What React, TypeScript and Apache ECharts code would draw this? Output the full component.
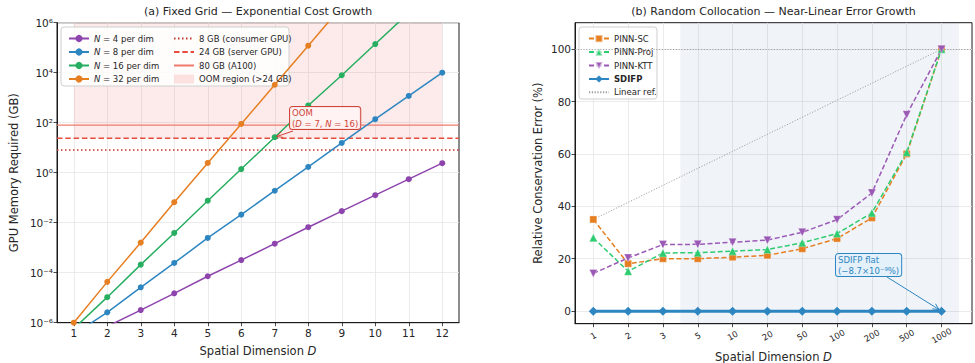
import React, { useEffect, useRef } from "react";
import * as echarts from "echarts";

const FONT = "'DejaVu Sans', 'Liberation Sans', sans-serif";
const TEXT = "#262626";

// ---------- (a) Fixed grid ----------
const DIMS = [1, 2, 3, 4, 5, 6, 7, 8, 9, 10, 11, 12];
const GRID_SIZES = [4, 8, 16, 32];
const MEM_N4 = [1.6e-7, 7.1e-7, 3.2e-6, 1.5e-5, 7.2e-5, 3.2e-4, 1.45e-3, 6.6e-3, 2.9e-2, 0.126, 0.55, 2.4];
const MEM_N8 = [3.4e-7, 2.6e-6, 2.6e-5, 2.45e-4, 2.45e-3, 0.021, 0.19, 1.7, 15.5, 138, 1175, 1.0e4];
const MEM_N16 = [5.8e-7, 1.05e-5, 2.1e-4, 3.9e-3, 0.076, 1.4, 26.3, 490, 7900, 1.4e5, 2.5e6, 4.6e7];
const MEM_N32 = [1.0e-6, 4.3e-5, 1.6e-3, 0.066, 2.45, 89, 3300, 1.2e5, 4.5e6, 1.6e8, 5.8e9, 2.1e11];
const MEM_SERIES = [MEM_N4, MEM_N8, MEM_N16, MEM_N32];
const MEM_COLORS = ["#8e44ad", "#2e86c1", "#27ae60", "#e67e22"];
const GPU_LIMITS_GB = [8, 24, 80];
const GPU_LIMIT_NAMES = ["8 GB (consumer GPU)", "24 GB (server GPU)", "80 GB (A100)"];
const OOM_NAME = "OOM region (>24 GB)";
const OOM_THRESHOLD_GB = 24;
const MEM_LOG_MIN = -6;
const MEM_LOG_MAX = 6;
const D_MIN = 0.5;
const D_MAX = 12.5;

// ---------- (b) Random collocation ----------
const DIM_LABELS = ["1", "2", "3", "5", "10", "20", "50", "100", "200", "500", "1000"];
const ERR_PINN_SC = [35.0, 18.1, 20.0, 20.0, 20.6, 21.3, 23.8, 27.7, 35.6, 60.0, 100.0];
const ERR_PINN_PROJ = [28.0, 15.2, 22.2, 22.3, 22.9, 23.5, 26.1, 29.6, 37.5, 60.6, 100.0];
const ERR_PINN_KTT = [14.4, 20.3, 25.4, 25.5, 26.3, 27.1, 30.1, 34.9, 45.1, 75.0, 100.0];
const ERR_SDIFP = [0, 0, 0, 0, 0, 0, 0, 0, 0, 0, 0];
const LINEAR_REF = [35, 100];
const ERR_TICKS = [0, 20, 40, 60, 80, 100];
const ERR_MIN = -4.8;
const ERR_MAX = 110.1;
const IDX_MIN = -0.525;
const IDX_MAX = 10.875;
const SHADE_FROM = 2.5;
const SHADE_TO = 10.5;

const SUP: Record<string, string> = {
  "-": "⁻", "0": "⁰", "1": "¹", "2": "²", "3": "³", "4": "⁴",
  "5": "⁵", "6": "⁶", "7": "⁷", "8": "⁸", "9": "⁹",
};
const sup = (n: number) => String(n).split("").map((c) => SUP[c] ?? c).join("");

function arrow(from: number[], to: number[], color: string, shrink: number) {
  const dx = to[0] - from[0];
  const dy = to[1] - from[1];
  const len = Math.hypot(dx, dy);
  const ux = dx / len;
  const uy = dy / len;
  const tx = to[0] - ux * shrink;
  const ty = to[1] - uy * shrink;
  const hl = 6;
  const hw = 3;
  const bx = tx - ux * hl;
  const by = ty - uy * hl;
  return [
    { type: "line", z: 20, silent: true, shape: { x1: from[0], y1: from[1], x2: tx, y2: ty }, style: { stroke: color, lineWidth: 1 } },
    {
      type: "polyline", z: 20, silent: true,
      shape: { points: [[bx - uy * hw, by + ux * hw], [tx, ty], [bx + uy * hw, by - ux * hw]] },
      style: { stroke: color, lineWidth: 1, fill: null },
    },
  ];
}

const NO_MARK = { color: "rgba(0,0,0,0)", borderColor: "rgba(0,0,0,0)", borderWidth: 0, opacity: 0 };

export default function App() {
  const ref = useRef<HTMLDivElement>(null);

  useEffect(() => {
    document.body.style.margin = "0";
    if (!ref.current) return;
    const chart = echarts.init(ref.current, undefined, { renderer: "svg" });

    const axisLine = { show: true, onZero: false, lineStyle: { color: "#1a1a1a", width: 1 } };
    const tick = { show: true, length: 3.5, lineStyle: { color: "#1a1a1a", width: 0.8 } };
    const split = { show: true, lineStyle: { color: "#e6e6e6", width: 0.8 } };
    const lbl = { color: TEXT, fontSize: 10.5, fontFamily: FONT };
    const nameStyle = { fontSize: 11.5, color: TEXT, fontFamily: FONT };
    const italic = { ...nameStyle, fontStyle: "italic" };
    const titleStyle = { fontSize: 11, fontWeight: "normal", color: TEXT, fontFamily: FONT };

    const memNames = GRID_SIZES.map((n) => `N = ${n} per dim`);
    const legendText = { fontSize: 8.5, fontFamily: FONT, color: TEXT };

    const series: any[] = [];
    // OOM shaded region
    series.push({
      name: OOM_NAME, type: "line", xAxisIndex: 0, yAxisIndex: 0, silent: true,
      data: [[DIMS[0], MEM_LOG_MAX], [DIMS[DIMS.length - 1], MEM_LOG_MAX]],
      symbol: "none", lineStyle: { width: 0 },
      itemStyle: { color: "rgba(231,76,60,0.13)" },
      areaStyle: { origin: Math.log10(OOM_THRESHOLD_GB), color: "rgba(231,76,60,0.11)", opacity: 1 },
      z: 1,
    });
    const limitStyles = [
      { type: [1.5, 2.5], color: "#c0392b", width: 1.5 },
      { type: [5.5, 2.8], color: "#e74c3c", width: 1.5 },
      { type: "solid", color: "#ef7b6e", width: 1.2 },
    ];
    GPU_LIMITS_GB.forEach((gb, i) => {
      series.push({
        name: GPU_LIMIT_NAMES[i], type: "line", xAxisIndex: 0, yAxisIndex: 0, silent: true,
        data: [[D_MIN, Math.log10(gb)], [D_MAX, Math.log10(gb)]],
        symbol: "none", lineStyle: limitStyles[i], itemStyle: { color: limitStyles[i].color }, z: 2,
      });
    });
    MEM_SERIES.forEach((arr, i) => {
      series.push({
        name: memNames[i], type: "line", xAxisIndex: 0, yAxisIndex: 0,
        data: DIMS.map((d, j) => [d, Math.log10(arr[j])]),
        symbol: "circle", symbolSize: 6, showSymbol: true,
        lineStyle: { color: MEM_COLORS[i], width: 1.5 }, itemStyle: { color: MEM_COLORS[i] }, z: 3,
      });
    });

    // (b)
    series.push({
      name: "shade", type: "line", xAxisIndex: 1, yAxisIndex: 1, silent: true,
      data: [[SHADE_FROM, ERR_MAX], [SHADE_TO, ERR_MAX]], symbol: "none", lineStyle: { width: 0 },
      areaStyle: { origin: ERR_MIN, color: "rgba(70,120,180,0.08)", opacity: 1 }, z: 1,
    });
    series.push({
      name: "Linear ref.", type: "line", xAxisIndex: 1, yAxisIndex: 1, silent: true,
      data: [[0, LINEAR_REF[0]], [DIM_LABELS.length - 1, LINEAR_REF[1]]],
      symbol: "none", lineStyle: { color: "#9a9a9a", width: 0.9, type: [1.2, 1.6] }, itemStyle: { color: "#9a9a9a" },
      markLine: {
        silent: true, symbol: "none", label: { show: false },
        lineStyle: { color: "#9a9a9a", width: 0.9, type: [1.2, 1.6] },
        data: [{ yAxis: 100 }],
      },
      z: 2,
    });
    const pinn = [
      { name: "PINN-SC", data: ERR_PINN_SC, color: "#e67e22", symbol: "rect", size: 7, rot: 0 },
      { name: "PINN-Proj", data: ERR_PINN_PROJ, color: "#2ecc71", symbol: "triangle", size: 8, rot: 0 },
      { name: "PINN-KTT", data: ERR_PINN_KTT, color: "#9b59b6", symbol: "triangle", size: 8, rot: 180 },
    ];
    pinn.forEach((p) => {
      series.push({
        name: p.name, type: "line", xAxisIndex: 1, yAxisIndex: 1,
        data: p.data.map((v, i) => [i, v]),
        symbol: p.symbol, symbolSize: p.size, symbolRotate: p.rot,
        lineStyle: { color: p.color, width: 1.5, type: [5, 2.5] },
        itemStyle: { color: p.color, borderColor: "rgba(255,255,255,0.5)", borderWidth: 0.6 }, z: 3,
      });
    });
    series.push({
      name: "SDIFP", type: "line", xAxisIndex: 1, yAxisIndex: 1,
      data: ERR_SDIFP.map((v, i) => [i, v]),
      symbol: "diamond", symbolSize: 9,
      lineStyle: { color: "#2e86c1", width: 3 }, itemStyle: { color: "#2e86c1" }, z: 4,
    });

    const option: any = {
      animation: false,
      backgroundColor: "#ffffff",
      textStyle: { fontFamily: FONT },
      title: [
        { text: "(a) Fixed Grid — Exponential Cost Growth", left: 258, top: 6, padding: 0, textAlign: "center", textStyle: titleStyle },
        { text: "(b) Random Collocation — Near-Linear Error Growth", left: 773.5, top: 6, padding: 0, textAlign: "center", textStyle: titleStyle },
      ],
      grid: [
        { left: 57, top: 22.7, width: 402, height: 300, show: true, borderColor: "#1a1a1a", borderWidth: 1,
          backgroundColor: "transparent", outerBoundsMode: "none", containLabel: false },
        { left: 575, top: 22.7, width: 397, height: 301, show: true, borderColor: "#1a1a1a", borderWidth: 1,
          backgroundColor: "transparent", outerBoundsMode: "none", containLabel: false },
      ],
      xAxis: [
        {
          type: "value", gridIndex: 0, min: D_MIN, max: D_MAX,
          axisLine, axisTick: { ...tick, customValues: DIMS }, splitLine: split,
          axisLabel: { ...lbl, customValues: DIMS, margin: 5 },
          name: "Spatial Dimension {i|D}", nameLocation: "middle", nameGap: 22,
          nameTextStyle: { ...nameStyle, rich: { i: italic } },
        },
        {
          type: "value", gridIndex: 1, min: IDX_MIN, max: IDX_MAX,
          axisLine, axisTick: { ...tick, customValues: DIM_LABELS.map((_, i) => i) }, splitLine: split,
          axisLabel: {
            ...lbl, fontSize: 8.5, customValues: DIM_LABELS.map((_, i) => i), rotate: 30,
            align: "center", verticalAlign: "middle", margin: 12,
            formatter: (v: number) => DIM_LABELS[Math.round(v)] ?? "",
          },
          name: "Spatial Dimension {i|D}", nameLocation: "middle", nameGap: 23,
          nameTextStyle: { ...nameStyle, rich: { i: italic } },
        },
      ],
      yAxis: [
        {
          type: "value", gridIndex: 0, min: MEM_LOG_MIN, max: MEM_LOG_MAX, interval: 2,
          axisLine, axisTick: tick, splitLine: split,
          axisLabel: { ...lbl, margin: 4, formatter: (v: number) => "10" + sup(v) },
          name: "GPU Memory Required (GB)", nameLocation: "middle", nameGap: 37,
          nameTextStyle: nameStyle,
        },
        {
          type: "value", gridIndex: 1, min: ERR_MIN, max: ERR_MAX,
          axisLine, axisTick: { ...tick, customValues: ERR_TICKS }, splitLine: split,
          axisLabel: { ...lbl, margin: 4, customValues: ERR_TICKS },
          name: "Relative Conservation Error (%)", nameLocation: "middle", nameGap: 31,
          nameTextStyle: nameStyle,
        },
      ],
      legend: [
        {
          left: 63, top: 29, orient: "vertical", itemWidth: 20, itemHeight: 9, itemGap: 4.5,
          selectedMode: false, data: memNames, textStyle: { ...legendText, rich: { i: { ...legendText, fontStyle: "italic" } } },
          formatter: (name: string) => name.replace(/^N/, "{i|N}"),
        },
        {
          left: 168, top: 29, orient: "vertical", itemWidth: 20, itemHeight: 9, itemGap: 4.5,
          selectedMode: false, textStyle: legendText,
          data: [
            ...GPU_LIMIT_NAMES.map((n) => ({ name: n, itemStyle: NO_MARK })),
            { name: OOM_NAME, icon: "rect", itemStyle: { color: "rgba(231,76,60,0.15)" } },
          ],
        },
        {
          left: 583, top: 29, orient: "vertical", itemWidth: 20, itemHeight: 9, itemGap: 4.3,
          selectedMode: false,
          data: ["PINN-SC", "PINN-Proj", "PINN-KTT", "SDIFP", { name: "Linear ref.", itemStyle: NO_MARK }],
          textStyle: { ...legendText, rich: { b: { ...legendText, fontWeight: "bold" } } },
          formatter: (name: string) => (name === "SDIFP" ? "{b|SDIFP}" : name),
        },
      ],
      series,
    };

    chart.setOption(option);

    const oomPt = chart.convertToPixel({ gridIndex: 0 } as any, [DIMS[6], Math.log10(MEM_N16[6])]) as number[];
    const sdPt = chart.convertToPixel({ gridIndex: 1 } as any, [DIM_LABELS.length - 1, ERR_SDIFP[ERR_SDIFP.length - 1]]) as number[];

    const annoFont = { fontSize: 8.5, fontFamily: FONT };
    chart.setOption({
      graphic: [
        { type: "rect", z: 3, silent: true, shape: { x: 61, y: 27, width: 228, height: 59, r: 3 },
          style: { fill: "rgba(255,255,255,0.85)", stroke: "#cfcfcf", lineWidth: 1 } },
        { type: "rect", z: 3, silent: true, shape: { x: 579, y: 27, width: 78, height: 72, r: 3 },
          style: { fill: "rgba(255,255,255,0.85)", stroke: "#cfcfcf", lineWidth: 1 } },
        {
          type: "text", z: 21, silent: true, x: 290, y: 107,
          style: {
            text: "OOM\n({i|D} = 7, {i|N} = 16)",
            ...annoFont, fill: "#d0443a", lineHeight: 10.5,
            rich: { i: { ...annoFont, fontStyle: "italic", fill: "#d0443a", lineHeight: 10.5 } },
            backgroundColor: "rgba(255,245,244,0.9)", borderColor: "#d0443a", borderWidth: 1, borderRadius: 2.5,
            padding: [1, 2, 0, 2],
          },
        },
        ...arrow([293, 131], oomPt, "#d0443a", 2),
        {
          type: "text", z: 21, silent: true, x: 836, y: 254,
          style: {
            text: "SDIFP flat\n(−8.7×10⁻⁹%)",
            ...annoFont, fill: "#2e86c1", lineHeight: 10.5,
            backgroundColor: "#e4f1fb", borderColor: "#2e86c1", borderWidth: 1, borderRadius: 2.5,
            padding: [1, 2, 0, 2],
          },
        },
        ...arrow([887, 277], sdPt, "#2e86c1", 3),
      ],
    });

    return () => chart.dispose();
  }, []);

  return <div ref={ref} style={{ width: 975, height: 363 }} />;
}
